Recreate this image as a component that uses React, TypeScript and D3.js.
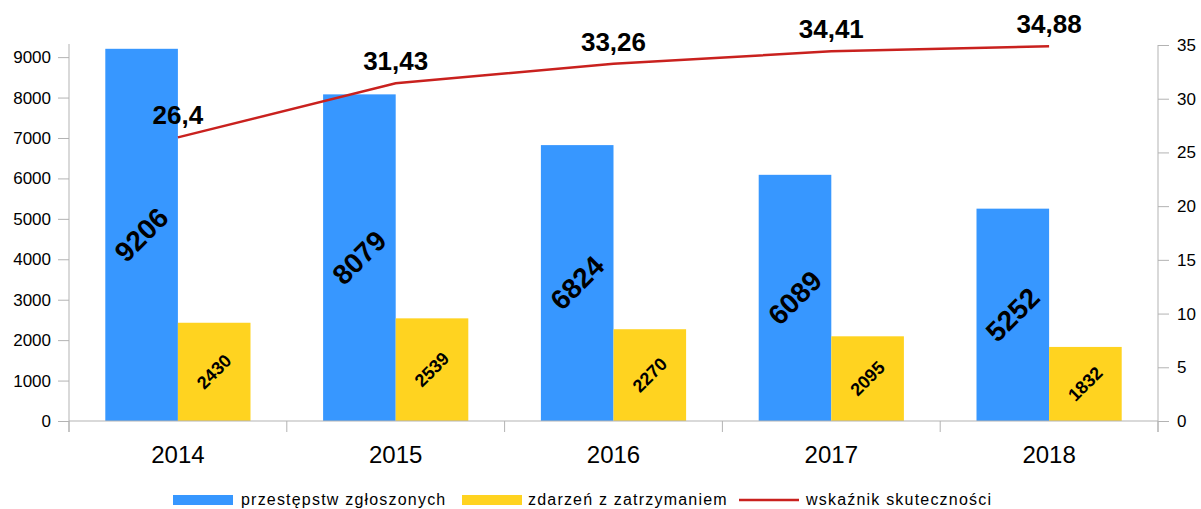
import React, { useEffect, useRef } from 'react';
import * as d3 from 'd3';

const years = ['2014', '2015', '2016', '2017', '2018'];
const reported = [9206, 8079, 6824, 6089, 5252];
const detained = [2430, 2539, 2270, 2095, 1832];
const effectiveness = [26.4, 31.43, 33.26, 34.41, 34.88];
const leftTicks = [0, 1000, 2000, 3000, 4000, 5000, 6000, 7000, 8000, 9000];
const rightTicks = [0, 5, 10, 15, 20, 25, 30, 35];
const legendLabels = ['przestępstw zgłoszonych', 'zdarzeń z zatrzymaniem', 'wskaźnik skuteczności'];

const BLUE = '#3797ff';
const YELLOW = '#ffd320';
const RED = '#c9211e';
const AXIS = '#b3b3b3';
const FONT = '"Liberation Sans", Arial, sans-serif';

const fmt = (v: number) => String(v).replace('.', ',');

const App: React.FC = () => {
  const svgRef = useRef<SVGSVGElement>(null);

  useEffect(() => {
    if (!svgRef.current) return;
    const svg = d3.select(svgRef.current);
    svg.selectAll('*').remove();

    const W = 1201;
    const H = 509;
    const left = 69;
    const right = 1158;
    const top = 45;
    const bottom = 421;

    const x = d3.scaleBand<string>().domain(years).range([left, right]).paddingInner(0).paddingOuter(0);
    const yL = d3.scaleLinear().domain([0, 9300]).range([bottom, top]);
    const yR = d3.scaleLinear().domain([0, 35]).range([bottom, top]);
    const bw = x.bandwidth() / 3;

    svg.attr('width', W).attr('height', H).style('font-family', FONT);
    svg.append('rect').attr('width', W).attr('height', H).attr('fill', '#fff');

    // bars
    const g = svg.append('g');
    g.selectAll('rect.rep')
      .data(years)
      .enter()
      .append('rect')
      .attr('x', d => (x(d) as number) + bw / 2)
      .attr('y', (d, i) => yL(reported[i]))
      .attr('width', bw)
      .attr('height', (d, i) => bottom - yL(reported[i]))
      .attr('fill', BLUE);

    g.selectAll('rect.det')
      .data(years)
      .enter()
      .append('rect')
      .attr('x', d => (x(d) as number) + bw * 1.5)
      .attr('y', (d, i) => yL(detained[i]))
      .attr('width', bw)
      .attr('height', (d, i) => bottom - yL(detained[i]))
      .attr('fill', YELLOW);

    // left axis
    const axL = svg.append('g').attr('transform', `translate(${left},0)`)
      .call(d3.axisLeft(yL).tickValues(leftTicks).tickSize(11).tickPadding(7).tickFormat(d => String(d)));
    axL.select('.domain').attr('stroke', AXIS).attr('d', `M-0,${top - 1}V${bottom + 11}`);
    axL.selectAll('line').attr('stroke', AXIS);
    axL.selectAll('text').attr('font-size', 17).attr('font-family', FONT).attr('fill', '#000');

    // right axis
    const axR = svg.append('g').attr('transform', `translate(${right},0)`)
      .call(d3.axisRight(yR).tickValues(rightTicks).tickSize(11).tickPadding(8));
    axR.select('.domain').attr('stroke', AXIS).attr('d', `M0,${top}V${bottom + 11}`);
    axR.selectAll('line').attr('stroke', AXIS);
    axR.selectAll('text').attr('font-size', 17).attr('font-family', FONT).attr('fill', '#000');

    // bottom axis
    svg.append('line').attr('x1', left).attr('x2', right).attr('y1', bottom).attr('y2', bottom).attr('stroke', AXIS);
    const boundaries = years.map(d => x(d) as number).concat([right]);
    svg.selectAll('line.xt')
      .data(boundaries)
      .enter()
      .append('line')
      .attr('x1', d => d).attr('x2', d => d)
      .attr('y1', bottom).attr('y2', bottom + 11)
      .attr('stroke', AXIS);
    svg.selectAll('text.xl')
      .data(years)
      .enter()
      .append('text')
      .attr('x', d => (x(d) as number) + x.bandwidth() / 2)
      .attr('y', 463)
      .attr('text-anchor', 'middle')
      .attr('font-size', 24)
      .text(d => d);

    // bar labels
    svg.selectAll('text.rl')
      .data(years)
      .enter()
      .append('text')
      .attr('transform', (d, i) => {
        const cx = (x(d) as number) + bw;
        const cy = (yL(reported[i]) + bottom) / 2;
        return `translate(${cx},${cy}) rotate(-45)`;
      })
      .attr('text-anchor', 'middle')
      .attr('dominant-baseline', 'central')
      .attr('font-size', 28)
      .attr('font-weight', 'bold')
      .text((d, i) => reported[i]);

    svg.selectAll('text.dl')
      .data(years)
      .enter()
      .append('text')
      .attr('transform', (d, i) => {
        const cx = (x(d) as number) + bw * 2;
        const cy = (yL(detained[i]) + bottom) / 2;
        return `translate(${cx},${cy}) rotate(-45)`;
      })
      .attr('text-anchor', 'middle')
      .attr('dominant-baseline', 'central')
      .attr('font-size', 18)
      .attr('font-weight', 'bold')
      .text((d, i) => detained[i]);

    // line
    const line = d3.line<number>()
      .x((d, i) => (x(years[i]) as number) + x.bandwidth() / 2)
      .y(d => yR(d));
    svg.append('path')
      .datum(effectiveness)
      .attr('fill', 'none')
      .attr('stroke', RED)
      .attr('stroke-width', 2.5)
      .attr('d', line);

    svg.selectAll('text.ll')
      .data(effectiveness)
      .enter()
      .append('text')
      .attr('x', (d, i) => (x(years[i]) as number) + x.bandwidth() / 2)
      .attr('y', d => yR(d) - 13)
      .attr('text-anchor', 'middle')
      .attr('font-size', 26)
      .attr('font-weight', 'bold')
      .text(d => fmt(d));

    // legend
    const legend = [
      { label: legendLabels[0], color: BLUE, x: 173, tx: 241, kind: 'rect' },
      { label: legendLabels[1], color: YELLOW, x: 462, tx: 528, kind: 'rect' },
      { label: legendLabels[2], color: RED, x: 739, tx: 806, kind: 'line' },
    ];
    const lg = svg.append('g');
    legend.forEach(item => {
      if (item.kind === 'rect') {
        lg.append('rect').attr('x', item.x).attr('y', 495).attr('width', 60).attr('height', 10).attr('fill', item.color);
      } else {
        lg.append('line').attr('x1', item.x).attr('x2', item.x + 60).attr('y1', 500).attr('y2', 500)
          .attr('stroke', item.color).attr('stroke-width', 2.5);
      }
      lg.append('text').attr('x', item.tx).attr('y', 505).attr('font-size', 16)
        .attr('letter-spacing', 1.2).text(item.label);
    });
  }, []);

  return (
    <div style={{ position: 'fixed', left: 0, top: 0 }}>
      <svg ref={svgRef} style={{ display: 'block' }}></svg>
    </div>
  );
};

export default App;
